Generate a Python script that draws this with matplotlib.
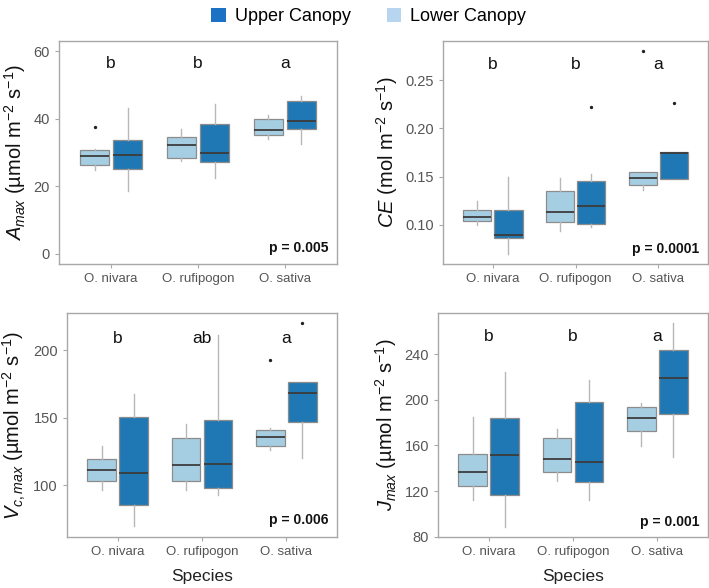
import matplotlib
matplotlib.use("Agg")
import matplotlib.pyplot as plt
from matplotlib.patches import Patch

plt.rcParams['font.family'] = ['Liberation Sans', 'DejaVu Sans']
plt.rcParams['mathtext.fontset'] = 'custom'
plt.rcParams['mathtext.rm'] = 'Liberation Sans'
plt.rcParams['mathtext.it'] = 'Liberation Sans:italic'

species = ["O. nivara", "O. rufipogon", "O. sativa"]
canopies = ["Upper Canopy", "Lower Canopy"]

# five-number stats per species: [whislo, q1, median, q3, whishi]
amax_lower = [[24.7, 26.4, 29.0, 30.6, 31.0], [27.5, 28.4, 32.3, 34.7, 37.0], [33.9, 35.2, 36.7, 39.9, 41.1]]
amax_upper = [[18.5, 25.2, 29.4, 33.6, 43.3], [22.5, 27.3, 30.0, 38.3, 44.5], [32.4, 37.1, 39.3, 45.2, 46.8]]
amax_lower_out = [[37.6], [], []]
amax_upper_out = [[], [], []]

ce_lower = [[0.100, 0.1035, 0.108, 0.1152, 0.125], [0.093, 0.1028, 0.1128, 0.135, 0.148], [0.1364, 0.1409, 0.148, 0.1547, 0.155]]
ce_upper = [[0.0695, 0.0865, 0.0896, 0.1156, 0.149], [0.097, 0.101, 0.1197, 0.1457, 0.153], [0.1478, 0.1478, 0.175, 0.1759, 0.1759]]
ce_lower_out = [[], [], [0.281]]
ce_upper_out = [[], [0.222], [0.2264]]

vc_lower = [[96.8, 103.5, 111.4, 119.5, 129.4], [96.8, 103.2, 115.1, 135.1, 145.2], [126.4, 129.1, 136.0, 141.0, 142.7]]
vc_upper = [[69.6, 85.4, 109.4, 150.9, 167.4], [92.6, 97.8, 115.8, 148.4, 211.1], [120.5, 147.2, 168.4, 176.3, 176.3]]
vc_lower_out = [[], [], [193.1]]
vc_upper_out = [[], [], [220.2]]

j_lower = [[112.5, 124.0, 136.9, 152.4, 184.9], [128.4, 136.9, 148.0, 166.2, 174.1], [159.7, 172.9, 183.7, 194.0, 197.5]]
j_upper = [[88.5, 116.9, 151.2, 184.0, 224.2], [112.5, 127.5, 145.3, 198.1, 217.4], [149.5, 187.8, 219.2, 243.8, 267.0]]
j_lower_out = [[], [], []]
j_upper_out = [[], [], []]

letters_amax = ["b", "b", "a"]
letters_ce = ["b", "b", "a"]
letters_vc = ["b", "ab", "a"]
letters_j = ["b", "b", "a"]

pvals = ["p = 0.005", "p = 0.0001", "p = 0.006", "p = 0.001"]

ylabels = [r'$A_{max}$ (µmol m$^{-2}$ s$^{-1}$)',
           r'$CE$ (mol m$^{-2}$ s$^{-1}$)',
           r'$V_{c,max}$ (µmol m$^{-2}$ s$^{-1}$)',
           r'$J_{max}$ (µmol m$^{-2}$ s$^{-1}$)']

light_col = '#a6cee3'
dark_col = '#1f78b4'
edge_col = '#8c8c8c'
whisk_col = '#b8b8b8'
med_col = '#3c3c3c'
spine_col = '#a8a8a8'
tick_col = '#555555'

fig = plt.figure(figsize=(7.09, 5.88), dpi=100)

panels = [
    dict(pos=[59/709, 1-264/588, 278/709, 223/588], lo=amax_lower, up=amax_upper,
         lo_out=amax_lower_out, up_out=amax_upper_out, letters=letters_amax,
         ylim=(-3, 63), yticks=[0, 20, 40, 60], yfmt='{:.0f}', let_y=56.4, p_y=1.7, xlabel=False),
    dict(pos=[443/709, 1-264/588, 265/709, 223/588], lo=ce_lower, up=ce_upper,
         lo_out=ce_lower_out, up_out=ce_upper_out, letters=letters_ce,
         ylim=(0.059, 0.291), yticks=[0.10, 0.15, 0.20, 0.25], yfmt='{:.2f}', let_y=0.267, p_y=0.075, xlabel=False),
    dict(pos=[67/709, 1-537/588, 270/709, 224/588], lo=vc_lower, up=vc_upper,
         lo_out=vc_lower_out, up_out=vc_upper_out, letters=letters_vc,
         ylim=(61.7, 227.7), yticks=[100, 150, 200], yfmt='{:.0f}', let_y=209.1, p_y=74.6, xlabel=True),
    dict(pos=[438/709, 1-537/588, 270/709, 224/588], lo=j_lower, up=j_upper,
         lo_out=j_lower_out, up_out=j_upper_out, letters=letters_j,
         ylim=(79.7, 276), yticks=[80, 120, 160, 200, 240], yfmt='{:.0f}', let_y=255.5, p_y=92.9, xlabel=True),
]

off = 0.19
bw = 0.34

for i, pnl in enumerate(panels):
    ax = fig.add_axes(pnl['pos'])
    for data, outs, sign, col in [(pnl['lo'], pnl['lo_out'], -1, light_col),
                                  (pnl['up'], pnl['up_out'], 1, dark_col)]:
        stats = []
        for s, o in zip(data, outs):
            stats.append(dict(whislo=s[0], q1=s[1], med=s[2], q3=s[3], whishi=s[4], fliers=o))
        positions = [k + 1 + sign * off for k in range(len(species))]
        ax.bxp(stats, positions=positions, widths=bw, patch_artist=True, showcaps=False,
               boxprops=dict(facecolor=col, edgecolor=edge_col, linewidth=0.9),
               whiskerprops=dict(color=whisk_col, linewidth=1.0),
               medianprops=dict(color=med_col, linewidth=1.3),
               flierprops=dict(marker='o', markersize=1.4, markerfacecolor='#222222',
                               markeredgecolor='#222222', linestyle='none'),
               manage_ticks=False, zorder=2)
    ax.set_xlim(0.4, 3.6)
    ax.set_ylim(*pnl['ylim'])
    ax.set_xticks([1, 2, 3])
    ax.set_xticklabels(species, fontsize=9.5, color=tick_col)
    ax.set_yticks(pnl['yticks'])
    ax.set_yticklabels([pnl['yfmt'].format(v) for v in pnl['yticks']], fontsize=10.5, color=tick_col)
    ax.tick_params(axis='both', colors=spine_col, length=3, width=0.8, labelcolor=tick_col)
    for sp in ax.spines.values():
        sp.set_color(spine_col)
        sp.set_linewidth(1.0)
    for k, lt in enumerate(pnl['letters']):
        ax.text(k + 1, pnl['let_y'], lt, ha='center', va='center', fontsize=12.5, color='#111111')
    ax.text(3.5, pnl['p_y'], pvals[i], ha='right', va='center', fontsize=10, fontweight='bold', color='#111111')
    ax.set_ylabel(ylabels[i], fontsize=14.5, color='#111111', labelpad=4)
    if pnl['xlabel']:
        ax.set_xlabel("Species", fontsize=12.5, color='#222222', labelpad=8)

handles = [Patch(facecolor='#1b72c4', edgecolor='none'), Patch(facecolor='#b8d5ef', edgecolor='none')]
fig.legend(handles, canopies, loc='upper center', bbox_to_anchor=(0.52, 1.014), ncol=2, frameon=False,
           fontsize=13, handlelength=0.8, handleheight=0.8, columnspacing=2.0, handletextpad=0.5)

fig.savefig("out.png", dpi=100)
